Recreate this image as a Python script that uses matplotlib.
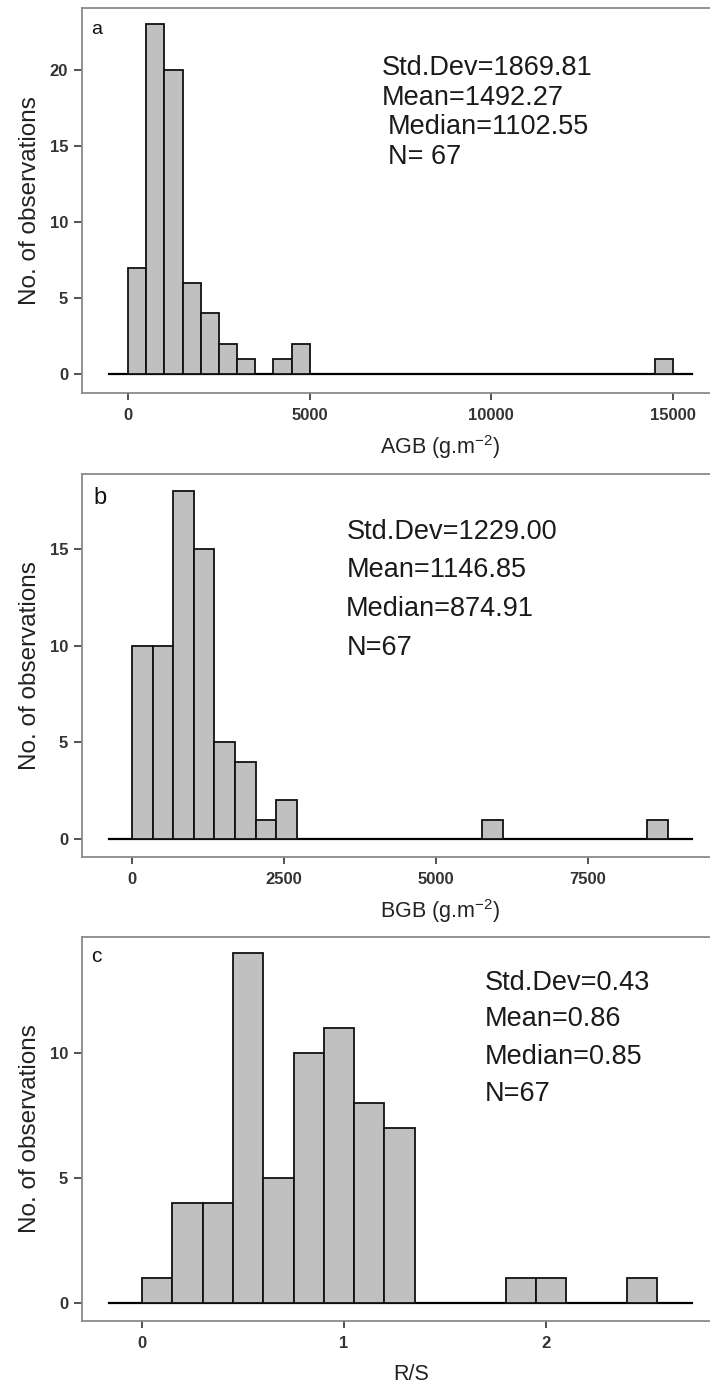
import numpy as np
import matplotlib
matplotlib.use("Agg")
import matplotlib.pyplot as plt

plt.rcParams['font.family'] = ['Liberation Sans', 'DejaVu Sans']
plt.rcParams['mathtext.fontset'] = 'custom'
plt.rcParams['mathtext.rm'] = 'Liberation Sans'
plt.rcParams['mathtext.it'] = 'Liberation Sans:italic'

# ---- data: histogram counts ----
agb_bin_width = 500
agb_counts = [7, 23, 20, 6, 4, 2, 1, 0, 1, 2] + [0] * 19 + [1]
agb_stats = ["Std.Dev=1869.81", "Mean=1492.27", "Median=1102.55", "N= 67"]

bgb_bin_width = 339
bgb_counts = [10, 10, 18, 15, 5, 4, 1, 2] + [0] * 9 + [1] + [0] * 7 + [1]
bgb_stats = ["Std.Dev=1229.00", "Mean=1146.85", "Median=874.91", "N=67"]

rs_bin_width = 0.15
rs_counts = [1, 4, 4, 14, 5, 10, 11, 8, 7, 0, 0, 0, 1, 1, 0, 0, 1]
rs_stats = ["Std.Dev=0.43", "Mean=0.86", "Median=0.85", "N=67"]

panels = [
    dict(letter="a", width=agb_bin_width, counts=agb_counts, stats=agb_stats,
         xlabel="AGB (g.m$^{-2}$)", xticks=[0, 5000, 10000, 15000],
         yticks=[0, 5, 10, 15, 20], xlim=(-1266, 16294), ylim=(-1.23, 24.07),
         rect=[0.1155, 0.7171, 0.8986, 0.2772],
         stat_x=[0.470, 0.470, 0.479, 0.480], stat_y=[0.844, 0.766, 0.691, 0.613],
         letter_pos=(0.0235, 0.943), letter_size=14, xlab_x=0.561),
    dict(letter="b", width=bgb_bin_width, counts=bgb_counts, stats=bgb_stats,
         xlabel="BGB (g.m$^{-2}$)", xticks=[0, 2500, 5000, 7500],
         yticks=[0, 5, 10, 15], xlim=(-822, 9671), ylim=(-0.93, 18.88),
         rect=[0.1155, 0.3830, 0.8986, 0.2757],
         stat_x=[0.415, 0.415, 0.413, 0.415], stat_y=[0.849, 0.749, 0.648, 0.546],
         letter_pos=(0.028, 0.937), letter_size=17, xlab_x=0.561),
    dict(letter="c", width=rs_bin_width, counts=rs_counts, stats=rs_stats,
         xlabel="R/S", xticks=[0, 1, 2],
         yticks=[0, 5, 10], xlim=(-0.297, 2.861), ylim=(-0.72, 14.64),
         rect=[0.1155, 0.04896, 0.8986, 0.2765],
         stat_x=[0.632, 0.632, 0.632, 0.632], stat_y=[0.880, 0.786, 0.6875, 0.591],
         letter_pos=(0.022, 0.948), letter_size=15, xlab_x=0.516),
]

fig = plt.figure(figsize=(7.1, 13.89), dpi=100)

for p in panels:
    ax = fig.add_axes(p["rect"])
    counts = np.array(p["counts"])
    lefts = np.arange(len(counts)) * p["width"]
    keep = counts > 0
    ax.axhline(0, xmin=0.042, xmax=0.956, color="black", lw=1.6, zorder=1)
    ax.bar(lefts[keep], counts[keep], width=p["width"], align="edge",
           color="#c0c0c0", edgecolor="#111111", linewidth=1.3, zorder=2)

    ax.set_xlim(*p["xlim"])
    ax.set_ylim(*p["ylim"])
    ax.set_xticks(p["xticks"])
    ax.set_yticks(p["yticks"])

    for s in ax.spines.values():
        s.set_color("#8a8a8a")
        s.set_linewidth(1.3)
    ax.tick_params(axis="y", direction="out", length=6, width=1.2, color="#333333",
                   labelsize=12, labelcolor="#333333", pad=4)
    ax.tick_params(axis="x", direction="out", length=5, width=1.2, color="#333333",
                   labelsize=12, labelcolor="#333333", pad=6)
    for lab in ax.get_xticklabels() + ax.get_yticklabels():
        lab.set_fontweight("bold")

    ax.set_xlabel(p["xlabel"], fontsize=15.5, color="#222222")
    ax.xaxis.label.set_va("center")
    ax.xaxis.set_label_coords(p["xlab_x"], -0.140)
    ax.set_ylabel("No. of observations", fontsize=17.5, color="#222222")
    ax.yaxis.label.set_va("center")
    ax.yaxis.set_label_coords(-0.0815, 0.5)

    ax.text(p["letter_pos"][0], p["letter_pos"][1], p["letter"], transform=ax.transAxes,
            fontsize=p["letter_size"], ha="center", va="center", color="#111111")
    for txt, sx, sy in zip(p["stats"], p["stat_x"], p["stat_y"]):
        ax.text(sx, sy, txt, transform=ax.transAxes, fontsize=19.5,
                ha="left", va="center", color="#1a1a1a")

fig.savefig("out.png", dpi=100)
